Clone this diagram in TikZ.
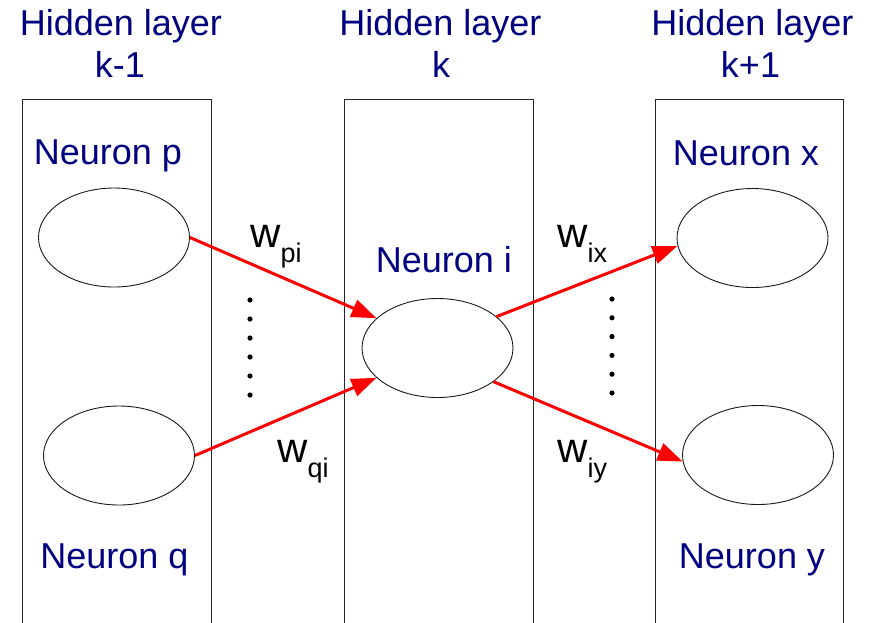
\documentclass[tikz,border=0pt]{standalone}
\usepackage{fontspec}
\setmainfont{Liberation Sans}
\usetikzlibrary{arrows.meta,shapes.geometric}
\definecolor{navy}{RGB}{0,0,128}
\begin{document}
\begin{tikzpicture}[x=1pt,y=-1pt,
  layerbox/.style={draw=black!85, line width=0.9pt},
  neuron/.style={draw=black!90, ellipse, line width=0.9pt, minimum width=151pt, minimum height=99pt, inner sep=0pt},
  title/.style={text=navy, inner sep=0pt, anchor=base, font=\fontsize{36}{42}\selectfont, align=center},
  nlabel/.style={text=navy, inner sep=0pt, anchor=base, font=\fontsize{36}{42}\selectfont},
  wlabel/.style={text=black, inner sep=0pt, anchor=base west},
  conn/.style={draw=red, line width=3pt, -{Triangle[length=25pt,width=18pt]}},
  dotfill/.style={fill=black}
]
\useasboundingbox (0,0) rectangle (872,622);
% layer boxes
\draw[layerbox] (22,640) -- (22,99) -- (211,99) -- (211,640);
\draw[layerbox] (344,640) -- (344,99) -- (533,99) -- (533,640);
\draw[layerbox] (655,640) -- (655,99) -- (843,99) -- (843,640);
% titles
\node[title] (t1a) at (121,35) {Hidden layer};
\node[title] (t1b) at (120,77) {k-1};
\node[title] (t2a) at (440.5,35) {Hidden layer};
\node[title] (t2b) at (441,77) {k};
\node[title] (t3a) at (752.5,35) {Hidden layer};
\node[title] (t3b) at (750.5,77) {k+1};
% neuron labels
\node[nlabel] (lp) at (108,164) {Neuron p};
\node[nlabel] (lq) at (114.5,568) {Neuron q};
\node[nlabel] (li) at (444,272) {Neuron i};
\node[nlabel] (lx) at (746,165) {Neuron x};
\node[nlabel] (ly) at (752,568) {Neuron y};
% neurons
\node[neuron] (p) at (114,237.5) {};
\node[neuron] (q) at (119,455.5) {};
\node[neuron] (i) at (437.5,348) {};
\node[neuron] (x) at (752.5,238) {};
\node[neuron] (y) at (758,455) {};
% connectors
\draw[conn] (p.east) -- (i.154);
\draw[conn] (q.east) -- (i.206);
\draw[conn] (i.28) -- (x.186);
\draw[conn] (i.329) -- (y.185);
% weights
\node[wlabel] (wpi) at (250,247) {{\fontsize{42}{42}\selectfont w}\raisebox{-15pt}{\fontsize{27}{27}\selectfont pi}};
\node[wlabel] (wqi) at (277,462) {{\fontsize{42}{42}\selectfont w}\raisebox{-15pt}{\fontsize{27}{27}\selectfont qi}};
\node[wlabel] (wix) at (557,247) {{\fontsize{42}{42}\selectfont w}\raisebox{-15pt}{\fontsize{27}{27}\selectfont ix}};
\node[wlabel] (wiy) at (557,462) {{\fontsize{42}{42}\selectfont w}\raisebox{-15pt}{\fontsize{27}{27}\selectfont iy}};
% dots
\foreach \k in {0,...,5} {
  \fill[dotfill] (250,{300+19*\k}) circle (2.6);
  \fill[dotfill] (612,{299+18.8*\k}) circle (2.6);
}
\end{tikzpicture}
\end{document}
